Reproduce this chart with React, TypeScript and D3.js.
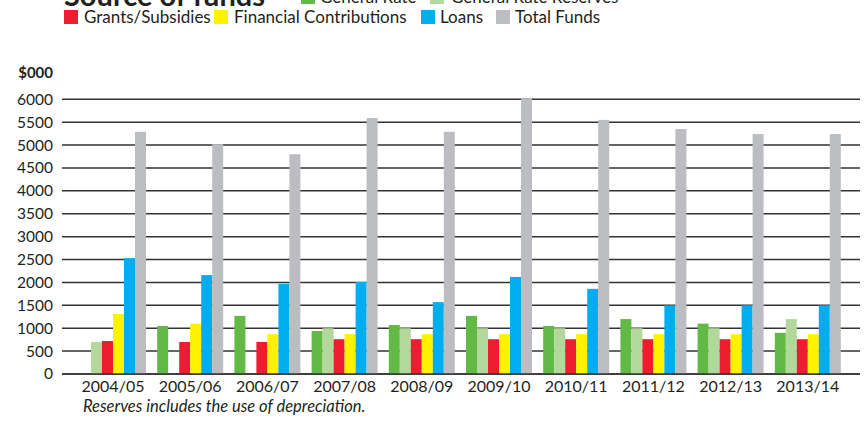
import React from "react";
import * as d3 from "d3";

const years = ["2004/05","2005/06","2006/07","2007/08","2008/09","2009/10","2010/11","2011/12","2012/13","2013/14"];
const seriesNames = ["General Rate","General Rate Reserves","Grants/Subsidies","Financial Contributions","Loans","Total Funds"];
const generalRate = [0,1050,1270,940,1070,1270,1050,1200,1100,900];
const generalRateReserves = [700,0,0,1000,1000,1000,1000,1000,1000,1200];
const grants = [720,700,700,760,760,760,760,760,760,760];
const financial = [1310,1100,870,870,870,870,870,870,870,870];
const loans = [2530,2160,1970,2010,1570,2120,1860,1500,1500,1500];
const totalFunds = [5290,5020,4800,5590,5290,6020,5550,5350,5240,5240];
const yTicks = [0,500,1000,1500,2000,2500,3000,3500,4000,4500,5000,5500,6000];
const colors = ["#62b946","#b3d89c","#ed1c2e","#fff200","#00aeef","#bcbdc0"];

const W = 866, H = 423;
const FONT = "Lato, 'Open Sans', sans-serif";
const TXT = "#231f20";

export default function App() {
  const series = [generalRate, generalRateReserves, grants, financial, loans, totalFunds];
  const x = d3.scaleBand<string>().domain(years).range([74.4, 846.4]).paddingInner(0.145).paddingOuter(0.0725);
  const xi = d3.scaleBand<number>().domain(d3.range(series.length)).range([0, x.bandwidth()]);
  const y = d3.scaleLinear().domain([0, 6000]).range([374, 99.3]);

  const legendRow1 = [
    { i: 0, sx: 301, tx: 320 },
    { i: 1, sx: 430, tx: 451 },
  ];
  const legendRow2 = [
    { i: 2, sx: 64, tx: 84 },
    { i: 3, sx: 214, tx: 234 },
    { i: 4, sx: 421, tx: 440 },
    { i: 5, sx: 496, tx: 515 },
  ];

  return (
    <svg width={W} height={H} style={{ position: "absolute", left: 0, top: 0, background: "#fff" }} fontFamily={FONT}>
      <text x={64} y={6} fontSize={29} fontWeight="bold" fill={TXT}>Source of funds</text>
      {legendRow1.map(d => (
        <g key={d.i}>
          <rect x={d.sx} y={-10} width={14} height={14} fill={colors[d.i]} />
          <text x={d.tx} y={3} fontSize={17} fill={TXT}>{seriesNames[d.i]}</text>
        </g>
      ))}
      {legendRow2.map(d => (
        <g key={d.i}>
          <rect x={d.sx} y={10} width={14} height={14} fill={colors[d.i]} />
          <text x={d.tx} y={23} fontSize={17} fill={TXT}>{seriesNames[d.i]}</text>
        </g>
      ))}
      <text x={53} y={78} fontSize={15} fontWeight="bold" textAnchor="end" fill={TXT}>$000</text>
      {yTicks.map(t => (
        <g key={t}>
          <line x1={62} x2={860} y1={y(t)} y2={y(t)} stroke="#333" strokeWidth={1.5} />
          <text x={53} y={y(t)} dy="0.35em" fontSize={15.5} textAnchor="end" fill={TXT}>{t}</text>
        </g>
      ))}
      {years.map((yr, gi) => (
        <g key={yr} transform={`translate(${x(yr)},0)`}>
          {series.map((s, si) => s[gi] > 0 ? (
            <rect key={si} x={xi(si)} width={xi.bandwidth()} y={y(s[gi])} height={y(0) - y(s[gi])} fill={colors[si]} />
          ) : null)}
          <text x={x.bandwidth() / 2} y={392} fontSize={16} textAnchor="middle" fill={TXT}>{yr}</text>
        </g>
      ))}
      <line x1={62} x2={860} y1={y(0)} y2={y(0)} stroke="#333" strokeWidth={1.5} />
      <text x={83} y={412} fontSize={16.5} fontStyle="italic" fill={TXT}>Reserves includes the use of depreciation.</text>
    </svg>
  );
}
